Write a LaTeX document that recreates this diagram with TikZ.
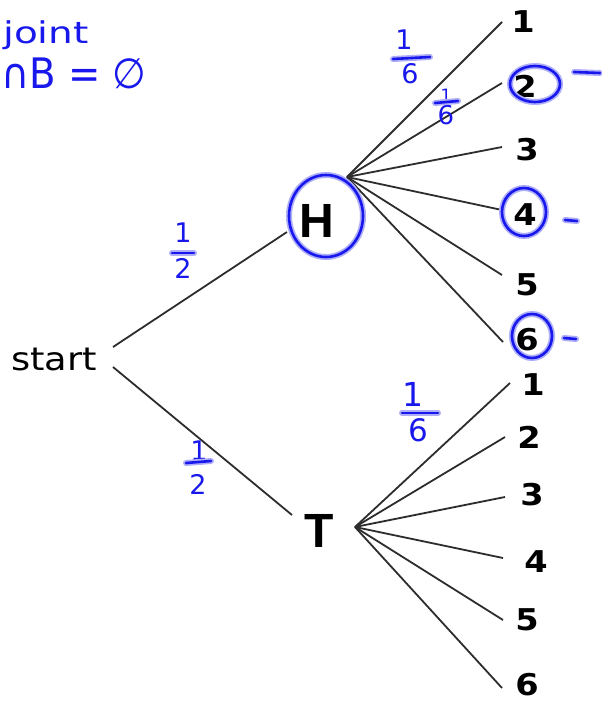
\documentclass[tikz,border=0pt]{standalone}
\usepackage{fontspec}
\setmainfont{DejaVu Sans}
\newfontfamily\treefont{Liberation Sans}
\definecolor{inkblue}{RGB}{24,24,236}
\definecolor{branchgray}{RGB}{45,45,45}
\begin{document}
\begin{tikzpicture}[x=1pt,y=-1pt,
  branch/.style={draw=branchgray, line width=1.8pt},
  leaf/.style={font=\fontsize{30}{30}\selectfont\bfseries, text=black, inner sep=0pt, anchor=base, xscale=1.12},
  big/.style={font=\treefont\fontsize{48}{48}\selectfont\bfseries, text=black, inner sep=0pt, anchor=base},
  inkhalo/.style={draw=inkblue!35, line width=6pt, line cap=round, line join=round},
  ink/.style={draw=inkblue, line width=2.6pt, line cap=round, line join=round},
  inktext/.style={text=inkblue, inner sep=0pt},
  fracdigit/.style={inktext, font=\fontsize{27}{27}\selectfont},
]
\useasboundingbox (0,0) rectangle (602,702);
\fill[white] (0,0) rectangle (602,702);

% main nodes
\node[font=\fontsize{32}{32}\selectfont, inner sep=0pt, anchor=base, xscale=1.15] (start) at (54,370) {start};
\node[big] (H) at (317,237) {H};
\node[big] (T) at (319,547) {T};

% leaves of H
\node[leaf] (H1) at (523,32) {1};
\node[leaf] (H2) at (525,97) {2};
\node[leaf] (H3) at (527,160) {3};
\node[leaf] (H4) at (525,225) {4};
\node[leaf] (H5) at (527,295) {5};
\node[leaf] (H6) at (527,350) {6};
% leaves of T
\node[leaf] (T1) at (533,395) {1};
\node[leaf] (T2) at (529,448) {2};
\node[leaf] (T3) at (532,505) {3};
\node[leaf] (T4) at (536,572) {4};
\node[leaf] (T5) at (527,630) {5};
\node[leaf] (T6) at (527,695) {6};

% connector end points
\coordinate (sH) at (113,347);
\coordinate (sT) at (113,367);
\coordinate (Hin) at (287,232);
\coordinate (Tin) at (292,515);
\coordinate (Ho) at (347,177);
\coordinate (To) at (355,527);
\coordinate (h1) at (502,22);
\coordinate (h2) at (502,83);
\coordinate (h3) at (502,147);
\coordinate (h4) at (502,210);
\coordinate (h5) at (502,275);
\coordinate (h6) at (503,342);
\coordinate (t1) at (510,383);
\coordinate (t2) at (505,437);
\coordinate (t3) at (505,497);
\coordinate (t4) at (503,558);
\coordinate (t5) at (503,620);
\coordinate (t6) at (502,688);

\draw[branch] (sH) -- (Hin);
\draw[branch] (sT) -- (Tin);
\foreach \i in {1,...,6} {
  \draw[branch] (Ho) -- (h\i);
  \draw[branch] (To) -- (t\i);
}

% handwritten annotations
\node[inktext, font=\fontsize{30}{30}\selectfont, anchor=base west, xscale=1.3] (disj) at (3,43) {joint};
\node[inktext, font=\fontsize{42}{42}\selectfont, anchor=base west, xscale=0.92] (eq) at (1,88) {∩B = ∅};

% fractions: numerator, bar, denominator
\node[fracdigit] (f1n) at (183,233) {1};
\node[fracdigit] (f1d) at (183,268) {2};
\coordinate (f1a) at (172,253); \coordinate (f1b) at (194,253);

\node[fracdigit] (f2n) at (199,451) {1};
\node[fracdigit] (f2d) at (198,484) {2};
\coordinate (f2a) at (186,463); \coordinate (f2b) at (211,461);

\node[fracdigit] (f3n) at (404,40) {1};
\node[fracdigit] (f3d) at (410,74) {6};
\coordinate (f3a) at (393,59); \coordinate (f3b) at (430,57);

\node[fracdigit, font=\fontsize{17}{17}\selectfont] (f4n) at (446,95) {1};
\node[fracdigit, font=\fontsize{26}{26}\selectfont] (f4d) at (446,115) {6};
\coordinate (f4a) at (435,103); \coordinate (f4b) at (458,101);

\node[fracdigit, font=\fontsize{33}{33}\selectfont] (f5n) at (413,394) {1};
\node[fracdigit, font=\fontsize{31}{31}\selectfont] (f5d) at (418,430) {6};
\coordinate (f5a) at (402,413); \coordinate (f5b) at (438,413);

% circles, bars and dashes
\foreach \st in {inkhalo,ink} {
  \draw[\st] (f1a) -- (f1b);
  \draw[\st] (f2a) -- (f2b);
  \draw[\st] (f3a) -- (f3b);
  \draw[\st] (f4a) -- (f4b);
  \draw[\st] (f5a) -- (f5b);
  \draw[\st] (326,216) ellipse [x radius=37, y radius=41];
  \draw[\st] (535,84) ellipse [x radius=25, y radius=18];
  \draw[\st] (524,212) ellipse [x radius=22, y radius=24];
  \draw[\st] (532,336) ellipse [x radius=20, y radius=22];
  \draw[\st] (574,72) -- (600,73);
  \draw[\st] (565,220) -- (577,221);
  \draw[\st] (564,338) -- (576,339);
}
\end{tikzpicture}
\end{document}
